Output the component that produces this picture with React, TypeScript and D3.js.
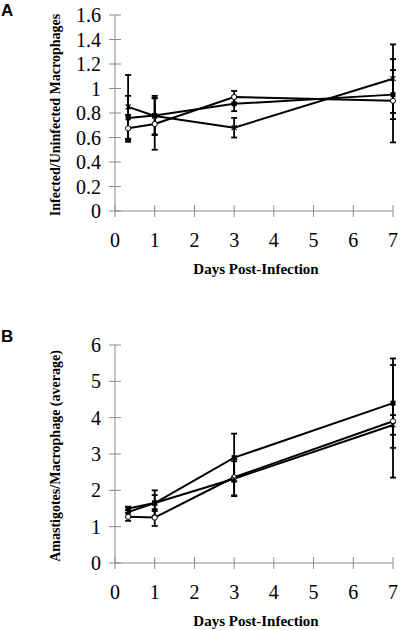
import React from "react";
import * as d3 from "d3";

const days = [0.33, 1, 3, 7];
const xTicks = [0, 1, 2, 3, 4, 5, 6, 7];

// Panel A: Infected/Uninfected Macrophages
const aTicks = [0, 0.2, 0.4, 0.6, 0.8, 1, 1.2, 1.4, 1.6];
const aFilled = [0.76, 0.78, 0.875, 0.95];
const aFilledErr = [0.18, 0.16, 0.06, 0.2];
const aOpen = [0.675, 0.71, 0.93, 0.9];
const aOpenErr = [0.11, 0.21, 0.05, 0.34];
const aCross = [0.85, 0.775, 0.68, 1.08];
const aCrossErr = [0.26, 0.15, 0.08, 0.28];

// Panel B: Amastigotes/Macrophage (average)
const bTicks = [0, 1, 2, 3, 4, 5, 6];
const bFilled = [1.5, 1.65, 2.9, 4.4];
const bFilledErr = [0.05, 0.35, 0.66, 1.23];
const bOpen = [1.27, 1.25, 2.36, 3.9];
const bOpenErr = [0.11, 0.23, 0.5, 1.55];
const bCross = [1.4, 1.65, 2.32, 3.8];
const bCrossErr = [0.14, 0.22, 0.48, 0.27];

const serif = "'Liberation Serif', 'Times New Roman', serif";
const sans = "'Liberation Sans', Arial, sans-serif";
const axisColor = "#8a8a8a";

type Series = { vals: number[]; errs: number[]; kind: "filled" | "open" | "cross" };

function Marker({ kind, x, y }: { kind: string; x: number; y: number }) {
  if (kind === "filled") return <rect x={x - 2.5} y={y - 2.5} width={5} height={5} fill="#000" />;
  if (kind === "open") return <circle cx={x} cy={y} r={2.6} fill="#fff" stroke="#000" strokeWidth={1} />;
  return (
    <g stroke="#000" strokeWidth={1.1}>
      <line x1={x - 2.5} y1={y - 2.5} x2={x + 2.5} y2={y + 2.5} />
      <line x1={x - 2.5} y1={y + 2.5} x2={x + 2.5} y2={y - 2.5} />
    </g>
  );
}

function Panel({
  top, bottom, ticks, yMax, series, yLabel, letter, letterY, tickFmt,
}: {
  top: number; bottom: number; ticks: number[]; yMax: number; series: Series[];
  yLabel: string; letter: string; letterY: number; tickFmt: (v: number) => string;
}) {
  const x = d3.scaleLinear().domain([0, 7]).range([115, 393]);
  const y = d3.scaleLinear().domain([0, yMax]).range([bottom, top]);
  const line = d3.line<[number, number]>().x((d) => x(d[0])).y((d) => y(d[1]));
  const midY = (top + bottom) / 2 + 2;
  return (
    <g>
      <text x={1} y={letterY} fontFamily={sans} fontWeight="bold" fontSize={17}>{letter}</text>
      {/* axes */}
      <line x1={x(0)} x2={x(0)} y1={y(yMax)} y2={y(0)} stroke={axisColor} strokeWidth={1} />
      <line x1={x(0)} x2={x(7)} y1={y(0)} y2={y(0)} stroke={axisColor} strokeWidth={1} />
      {ticks.map((t) => (
        <g key={"y" + t}>
          <line x1={x(0) - 6} x2={x(0) + 6} y1={y(t)} y2={y(t)} stroke={axisColor} strokeWidth={1} />
          <text x={101} y={y(t)} dy="0.35em" textAnchor="end" fontFamily={serif} fontSize={20}>{tickFmt(t)}</text>
        </g>
      ))}
      {xTicks.map((t) => (
        <g key={"x" + t}>
          <line x1={x(t)} x2={x(t)} y1={y(0) - 6} y2={y(0) + 6} stroke={axisColor} strokeWidth={1} />
          <text x={x(t)} y={y(0) + 36} textAnchor="middle" fontFamily={serif} fontSize={20}>{t}</text>
        </g>
      ))}
      <text x={256} y={y(0) + 63} textAnchor="middle" fontFamily={serif} fontWeight="bold" fontSize={15}>Days Post-Infection</text>
      <text transform={`translate(60,${midY}) rotate(-90)`} textAnchor="middle" fontFamily={serif} fontWeight="bold" fontSize={14}>{yLabel}</text>
      {/* error bars */}
      {series.map((s, si) =>
        s.vals.map((v, i) => {
          const cx = x(days[i]);
          const hi = y(v + s.errs[i]);
          const lo = y(v - s.errs[i]);
          return (
            <g key={`e${si}-${i}`} stroke="#000" strokeWidth={1.8}>
              <line x1={cx} x2={cx} y1={hi} y2={lo} />
              <line x1={cx - 3} x2={cx + 3} y1={hi} y2={hi} />
              <line x1={cx - 3} x2={cx + 3} y1={lo} y2={lo} />
            </g>
          );
        })
      )}
      {series.map((s, si) => (
        <path key={"l" + si} d={line(s.vals.map((v, i) => [days[i], v] as [number, number])) || ""} fill="none" stroke="#000" strokeWidth={2} />
      ))}
      {series.map((s, si) =>
        s.vals.map((v, i) => <Marker key={`m${si}-${i}`} kind={s.kind} x={x(days[i])} y={y(v)} />)
      )}
    </g>
  );
}

export default function App() {
  const aSeries: Series[] = [
    { vals: aFilled, errs: aFilledErr, kind: "filled" },
    { vals: aOpen, errs: aOpenErr, kind: "open" },
    { vals: aCross, errs: aCrossErr, kind: "cross" },
  ];
  const bSeries: Series[] = [
    { vals: bFilled, errs: bFilledErr, kind: "filled" },
    { vals: bOpen, errs: bOpenErr, kind: "open" },
    { vals: bCross, errs: bCrossErr, kind: "cross" },
  ];
  return (
    <svg width={400} height={630} style={{ position: "absolute", left: 0, top: 0, background: "#fff" }}>
      <rect width={400} height={630} fill="#fff" />
      <Panel top={15} bottom={211} ticks={aTicks} yMax={1.6} series={aSeries}
        yLabel="Infected/Uninfected Macrophages" letter="A" letterY={16}
        tickFmt={(v) => (v === 0 || v === 1 ? String(v) : v.toFixed(1))} />
      <Panel top={345} bottom={563} ticks={bTicks} yMax={6} series={bSeries}
        yLabel="Amastigotes/Macrophage (average)" letter="B" letterY={342}
        tickFmt={(v) => String(v)} />
    </svg>
  );
}
